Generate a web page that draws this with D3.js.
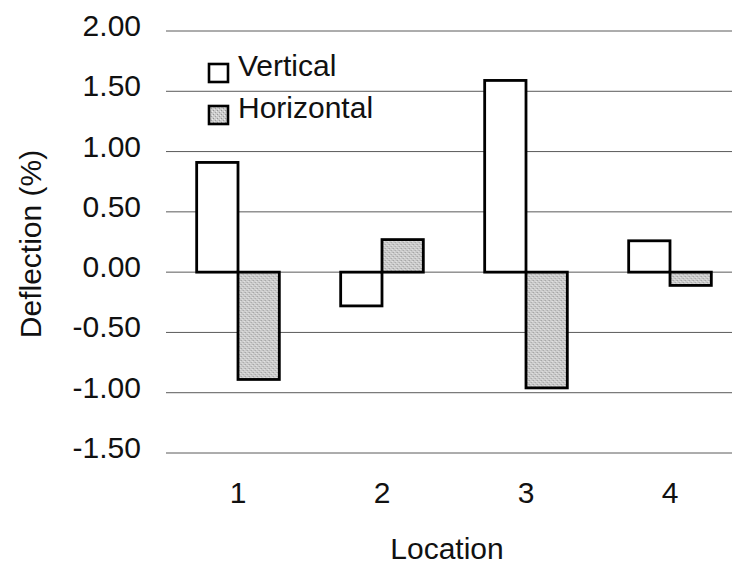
<!DOCTYPE html>
<html>
<head>
<meta charset="utf-8">
<script src="https://cdn.jsdelivr.net/npm/d3@7"></script>
<style>
  html, body { margin: 0; padding: 0; background: #fff; }
  svg { display: block; }
  text { font-family: "Liberation Sans", Arial, sans-serif; fill: #111; }
</style>
</head>
<body>
<svg id="chart" width="732" height="569"></svg>
<script>
// Deflection (%) measured at each location
const locations = ["1", "2", "3", "4"];
const seriesNames = ["Vertical", "Horizontal"];
const verticalValues = [0.91, -0.28, 1.59, 0.26];
const horizontalValues = [-0.89, 0.27, -0.96, -0.11];
const yTicks = [-1.5, -1.0, -0.5, 0.0, 0.5, 1.0, 1.5, 2.0];

const FONT = "'Liberation Sans', Arial, sans-serif";
const FS = "30px";

const svg = d3.select("#chart");
const W = 732, H = 569;
const plot = { left: 166, right: 742, top: 31, bottom: 453 };

const x = d3.scaleBand()
  .domain(locations)
  .range([plot.left, plot.right])
  .paddingInner(0.426)
  .paddingOuter(0.213);

const xs = d3.scaleBand()
  .domain(seriesNames)
  .range([0, x.bandwidth()])
  .padding(0);

const y = d3.scaleLinear()
  .domain([-1.5, 2.0])
  .range([plot.bottom, plot.top]);

// speckled grey fill for the horizontal series
const defs = svg.append("defs");
const pat = defs.append("pattern")
  .attr("id", "speckle")
  .attr("patternUnits", "userSpaceOnUse")
  .attr("width", 4).attr("height", 4);
pat.append("rect").attr("width", 4).attr("height", 4).attr("fill", "#cbcbcb");
pat.append("rect").attr("x", 0).attr("y", 0).attr("width", 1).attr("height", 1).attr("fill", "#959595");
pat.append("rect").attr("x", 2).attr("y", 2).attr("width", 1).attr("height", 1).attr("fill", "#a0a0a0");
pat.append("rect").attr("x", 3).attr("y", 1).attr("width", 1).attr("height", 1).attr("fill", "#ececec");
pat.append("rect").attr("x", 1).attr("y", 3).attr("width", 1).attr("height", 1).attr("fill", "#e4e4e4");

// horizontal gridlines
svg.append("g")
  .selectAll("line")
  .data(yTicks)
  .join("line")
  .attr("x1", plot.left).attr("x2", W)
  .attr("y1", d => y(d)).attr("y2", d => y(d))
  .attr("stroke", "#5a5a5a")
  .attr("stroke-width", 1);

// y axis labels (plain hyphen for negatives)
const yAxis = d3.axisLeft(y)
  .tickValues(yTicks)
  .tickFormat(d => d.toFixed(2))
  .tickSize(0)
  .tickPadding(25);
const gy = svg.append("g")
  .attr("transform", `translate(${plot.left},0)`)
  .call(yAxis);
gy.select(".domain").remove();
gy.selectAll("text")
  .attr("dy", "0.15em")
  .style("font-size", FS)
  .style("font-family", FONT)
  .attr("fill", "#111");

// x axis labels
const xAxis = d3.axisBottom(x).tickSize(0).tickPadding(0);
const gx = svg.append("g")
  .attr("transform", "translate(0,503)")
  .call(xAxis);
gx.select(".domain").remove();
gx.selectAll("text")
  .attr("y", 0)
  .attr("dy", 0)
  .style("font-size", FS)
  .style("font-family", FONT)
  .attr("fill", "#111");

// bars
const rows = locations.map((loc, i) => ({
  loc,
  values: [
    { name: "Vertical", value: verticalValues[i] },
    { name: "Horizontal", value: horizontalValues[i] }
  ]
}));

svg.append("g")
  .selectAll("g")
  .data(rows)
  .join("g")
  .attr("transform", d => `translate(${x(d.loc)},0)`)
  .selectAll("rect")
  .data(d => d.values)
  .join("rect")
  .attr("x", d => xs(d.name))
  .attr("width", xs.bandwidth())
  .attr("y", d => y(Math.max(0, d.value)))
  .attr("height", d => Math.abs(y(d.value) - y(0)))
  .attr("fill", d => d.name === "Horizontal" ? "url(#speckle)" : "#fff")
  .attr("stroke", "#000")
  .attr("stroke-width", 2.8);

// legend
const legend = svg.append("g").attr("transform", "translate(209,64)");
seriesNames.forEach((name, i) => {
  const g = legend.append("g").attr("transform", `translate(0,${i * 42})`);
  g.append("rect")
    .attr("x", 0).attr("y", 0)
    .attr("width", 19).attr("height", 18)
    .attr("fill", name === "Horizontal" ? "url(#speckle)" : "#fff")
    .attr("stroke", "#000")
    .attr("stroke-width", 2.6);
  g.append("text")
    .attr("x", 29).attr("y", 12)
    .style("font-size", FS)
    .text(name);
});

// axis titles
svg.append("text")
  .attr("x", 447)
  .attr("y", 559)
  .attr("text-anchor", "middle")
  .style("font-size", FS)
  .text("Location");

svg.append("text")
  .attr("transform", "translate(41,244) rotate(-90)")
  .attr("text-anchor", "middle")
  .style("font-size", FS)
  .text("Deflection (%)");
</script>
</body>
</html>
